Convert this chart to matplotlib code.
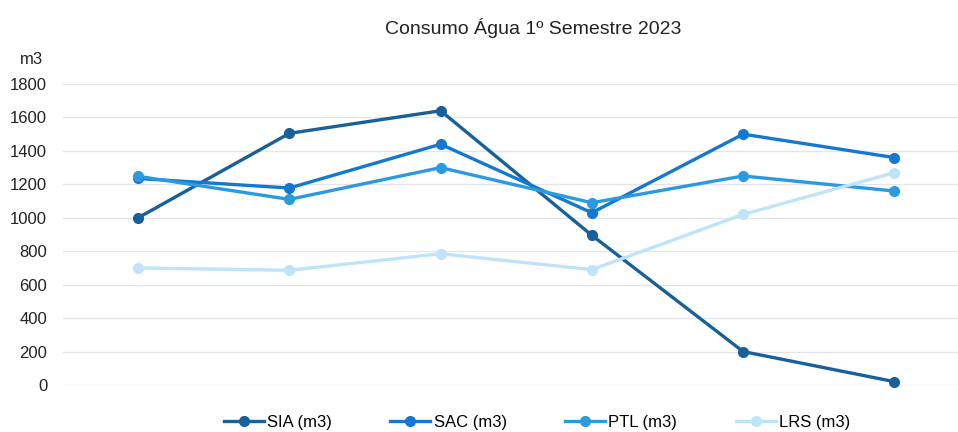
import matplotlib
matplotlib.use("Agg")
import matplotlib.pyplot as plt

plt.rcParams['font.family'] = ['Liberation Sans', 'DejaVu Sans']

months = ['Jan', 'Fev', 'Mar', 'Abr', 'Mai', 'Jun']
sia = [1000, 1505, 1640, 895, 200, 20]
sac = [1235, 1178, 1440, 1030, 1500, 1360]
ptl = [1248, 1110, 1300, 1090, 1250, 1160]
lrs = [700, 686, 785, 690, 1020, 1270]

series = [
    ('SIA (m3)', sia, '#17609a'),
    ('SAC (m3)', sac, '#1478d0'),
    ('PTL (m3)', ptl, '#2b9ade'),
    ('LRS (m3)', lrs, '#bfe4f8'),
]

fig = plt.figure(figsize=(9.58, 4.32), dpi=100)
ax = fig.add_axes([62.5 / 958, 47 / 432, 907.5 / 958, 301 / 432])

x = list(range(len(months)))
for name, vals, col in series:
    ax.plot(x, vals, color=col, lw=2.4, marker='o', ms=7, label=name, clip_on=False)

ax.set_xlim(-0.5, 5.5)
ax.set_ylim(0, 1800)
ax.set_yticks(range(0, 1801, 200))
ax.set_xticks([])
ax.tick_params(axis='y', length=0, pad=11, labelsize=12, labelcolor='#222222')
ax.grid(axis='y', color='#e4e4ea', lw=0.9)
ax.set_axisbelow(True)
for s in ax.spines.values():
    s.set_visible(False)

fig.text(20 / 958, 1 - 60 / 432, 'm3', fontsize=12, color='#222222', va='center', ha='left')
fig.text(533 / 958, 1 - 28 / 432, 'Consumo Água 1º Semestre 2023', fontsize=14,
         color='#222222', ha='center', va='center')

fig.legend(loc='center', bbox_to_anchor=(537 / 958, 1 - 422 / 432), ncol=4, frameon=False,
           fontsize=12, handlelength=2.4, handletextpad=0.2, columnspacing=3.5)

fig.savefig('out.png', dpi=100)
